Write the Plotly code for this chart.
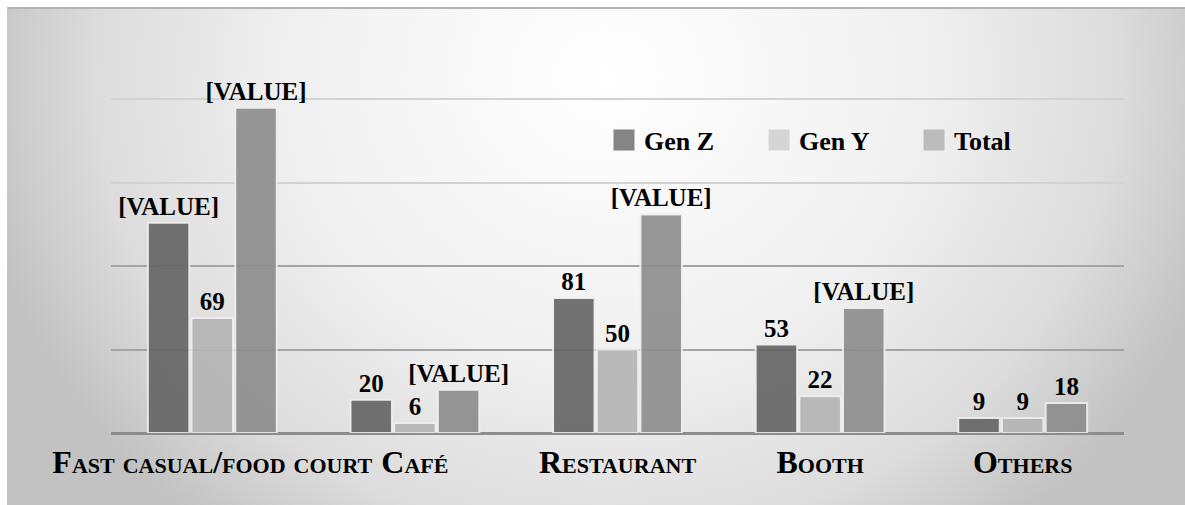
import base64
import plotly.graph_objects as go

# ---------------- data ----------------
CATEGORIES = ["Fast casual/food court", "Café", "Restaurant", "Booth", "Others"]
SERIES_NAMES = ["Gen Z", "Gen Y", "Total"]
GEN_Z = [126, 20, 81, 53, 9]
GEN_Y = [69, 6, 50, 22, 9]
TOTAL = [195, 26, 131, 75, 18]
GEN_Z_LABELS = ["[VALUE]", "20", "81", "53", "9"]
GEN_Y_LABELS = ["69", "6", "50", "22", "9"]
TOTAL_LABELS = ["[VALUE]", "[VALUE]", "[VALUE]", "[VALUE]", "18"]
Y_MAX = 250
GRID_DARK = [50, 100]
GRID_LIGHT = [150, 200, 250]

# ---------------- style ----------------
FONT = "Liberation Serif, Times New Roman, serif"
BAR_COLORS = ["#646464", "#b4b4b4", "#8c8c8c"]
LEGEND_COLORS = ["#858585", "#d5d5d5", "#bcbcbc"]
W, H = 1185, 505
ML, MR, MT, MB = 111, 61, 16, 72
CARD_X0, CARD_Y0 = 7, 7

svg = f"""<svg xmlns='http://www.w3.org/2000/svg' width='{W-CARD_X0}' height='{H-CARD_Y0}' viewBox='0 0 {W-CARD_X0} {H-CARD_Y0}'>
<defs><radialGradient id='g' gradientUnits='userSpaceOnUse' cx='0' cy='0' r='1'
 gradientTransform='translate(600,70) scale(640,580)'>
<stop offset='0' stop-color='#ffffff'/><stop offset='0.5' stop-color='#f0f0f0'/>
<stop offset='0.8' stop-color='#dcdcdc'/><stop offset='1' stop-color='#c2c2c2'/>
</radialGradient></defs>
<rect x='0' y='0' width='{W-CARD_X0}' height='{H-CARD_Y0}' fill='url(#g)'/>
<rect x='0' y='0' width='{W-CARD_X0}' height='2' fill='#b4b4b4'/>
</svg>"""
svg_uri = "data:image/svg+xml;base64," + base64.b64encode(svg.encode()).decode()

plot_w = W - ML - MR
plot_h = H - MT - MB

fig = go.Figure()
for name, vals, labels, color in zip(SERIES_NAMES, [GEN_Z, GEN_Y, TOTAL],
                                     [GEN_Z_LABELS, GEN_Y_LABELS, TOTAL_LABELS], BAR_COLORS):
    fig.add_trace(go.Bar(
        x=CATEGORIES, y=vals, name=name, text=labels,
        textposition="outside", constraintext="none", cliponaxis=False,
        textfont=dict(family=FONT, size=25, color="black", weight="bold"),
        marker=dict(color=color, opacity=0.9, line=dict(color="rgba(240,240,240,0.95)", width=2)),
        showlegend=False, hoverinfo="skip",
    ))

for name, color in zip(SERIES_NAMES, LEGEND_COLORS):
    fig.add_trace(go.Scatter(
        x=[None], y=[None], name=name, mode="markers",
        marker=dict(symbol="square", size=16, color=color, line=dict(color=color, width=5)),
        showlegend=True, hoverinfo="skip",
    ))

fig.update_layout(
    width=W, height=H,
    margin=dict(l=ML, r=MR, t=MT, b=MB, pad=0),
    paper_bgcolor="white", plot_bgcolor="rgba(0,0,0,0)",
    barmode="group", bargap=0.353, bargroupgap=0.05,
    font=dict(family=FONT, color="black"),
    showlegend=True,
    legend=dict(
        orientation="h", x=(604 - ML) / plot_w, xanchor="left",
        y=(H - MB - 140) / plot_h, yanchor="middle",
        font=dict(family=FONT, size=26, color="black", weight="bold"),
        entrywidth=110, entrywidthmode="pixels",
        bgcolor="rgba(0,0,0,0)", borderwidth=0, itemclick=False,
    ),
    xaxis=dict(
        type="category", tickangle=0, showgrid=False, showline=False, ticks="",
        ticklabelstandoff=7,
        tickfont=dict(family=FONT, size=32, color="black", weight="bold", variant="small-caps"),
    ),
    yaxis=dict(
        range=[0, Y_MAX], showticklabels=False, ticks="",
        tickmode="array", tickvals=GRID_DARK,
        showgrid=True, gridcolor="#a4a4a4", gridwidth=2,
        minor=dict(tickmode="array", tickvals=GRID_LIGHT, showgrid=True,
                   gridcolor="#d2d2d2", gridwidth=2),
        zeroline=True, zerolinecolor="#8c8c8c", zerolinewidth=3,
        showline=False, fixedrange=True,
    ),
    images=[dict(
        source=svg_uri, xref="paper", yref="paper",
        x=(CARD_X0 - ML) / plot_w, y=(H - MB - CARD_Y0) / plot_h,
        sizex=(W - CARD_X0) / plot_w, sizey=(H - CARD_Y0) / plot_h,
        xanchor="left", yanchor="top", sizing="stretch", layer="below",
    )],
)

fig.write_html("out.html")
